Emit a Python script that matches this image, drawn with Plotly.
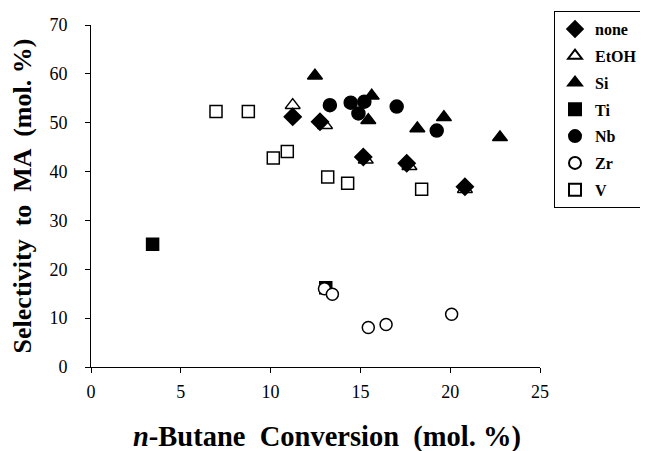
import plotly.graph_objects as go

none_x = [11.23, 12.75, 15.16, 17.58, 20.82]
none_y = [51.2, 50.2, 43.0, 41.7, 36.9]

etoh_x = [11.23, 13.03, 15.3, 17.73, 20.82]
etoh_y = [53.6, 49.5, 42.4, 41.1, 36.4]

si_x = [12.47, 15.63, 15.44, 18.17, 19.65, 22.77]
si_y = [59.6, 55.5, 50.5, 48.8, 51.1, 47.0]

ti_x = [3.43, 13.07]
ti_y = [25.1, 16.2]

nb_x = [13.3, 14.46, 15.22, 14.89, 17.02, 19.25]
nb_y = [53.6, 54.1, 54.3, 51.9, 53.3, 48.4]

zr_x = [13.0, 13.44, 15.44, 16.43, 20.08]
zr_y = [16.0, 14.9, 8.1, 8.7, 10.8]

v_x = [6.96, 8.76, 10.15, 10.93, 13.18, 14.29, 18.41]
v_y = [52.3, 52.3, 42.8, 44.1, 38.9, 37.6, 36.4]

x_ticks = [0, 5, 10, 15, 20, 25]
y_ticks = [0, 10, 20, 30, 40, 50, 60, 70]

FONT = "Liberation Serif"

series = [
    ("none", none_x, none_y, "diamond", "black", 13),
    ("EtOH", etoh_x, etoh_y, "triangle-up-open", "black", 13),
    ("Si", si_x, si_y, "triangle-up", "black", 13),
    ("Ti", ti_x, ti_y, "square", "black", 12),
    ("Nb", nb_x, nb_y, "circle", "black", 13),
    ("Zr", zr_x, zr_y, "circle", "white", 12),
    ("V", v_x, v_y, "square", "white", 12),
]

fig = go.Figure()
for name, xs, ys, sym, fill, size in series:
    fig.add_trace(go.Scatter(
        x=xs, y=ys, mode="markers", name=name, legendgroup=name,
        marker=dict(symbol=sym, color=fill, size=size,
                    line=dict(color="black", width=1.5)),
    ))

tick_font = dict(family=FONT, size=18, color="black")

fig.update_layout(
    width=648, height=451,
    paper_bgcolor="white", plot_bgcolor="white",
    margin=dict(l=83, r=116, t=17, b=92, autoexpand=False),
    font=dict(family=FONT, size=16, color="black"),
    showlegend=True,
    legend=dict(
        xref="container", yref="container",
        x=0.8426, y=0.9933, xanchor="left", yanchor="top",
        bordercolor="black", borderwidth=1, bgcolor="white",
        font=dict(family=FONT, size=16, color="black", weight="bold"),
        itemsizing="constant",
        tracegroupgap=3,
        entrywidth=70,
    ),
    xaxis=dict(
        range=[0, 25], tickvals=x_ticks, showline=True, linecolor="black",
        linewidth=1, ticks="outside", ticklen=5, tickcolor="black",
        tickfont=tick_font, ticklabelstandoff=3,
        showgrid=False, zeroline=False, automargin=False,
    ),
    yaxis=dict(
        range=[0, 70], tickvals=y_ticks, showline=True, linecolor="black",
        linewidth=1, ticks="outside", ticklen=5, tickcolor="black",
        tickfont=tick_font, ticklabelstandoff=14,
        showgrid=False, zeroline=False, automargin=False,
        title=dict(text="Selectivity  to  MA  (mol. %)",
                   font=dict(family=FONT, size=26, weight="bold"), standoff=22),
    ),
    annotations=[dict(
        text="<i>n</i>-Butane  Conversion  (mol. %)",
        xref="paper", yref="paper", x=0.5256, y=0, yshift=-70,
        xanchor="center", yanchor="middle", showarrow=False,
        font=dict(family=FONT, size=28.5, weight="bold", color="black"),
    )],
)

fig.write_html("out.html")
